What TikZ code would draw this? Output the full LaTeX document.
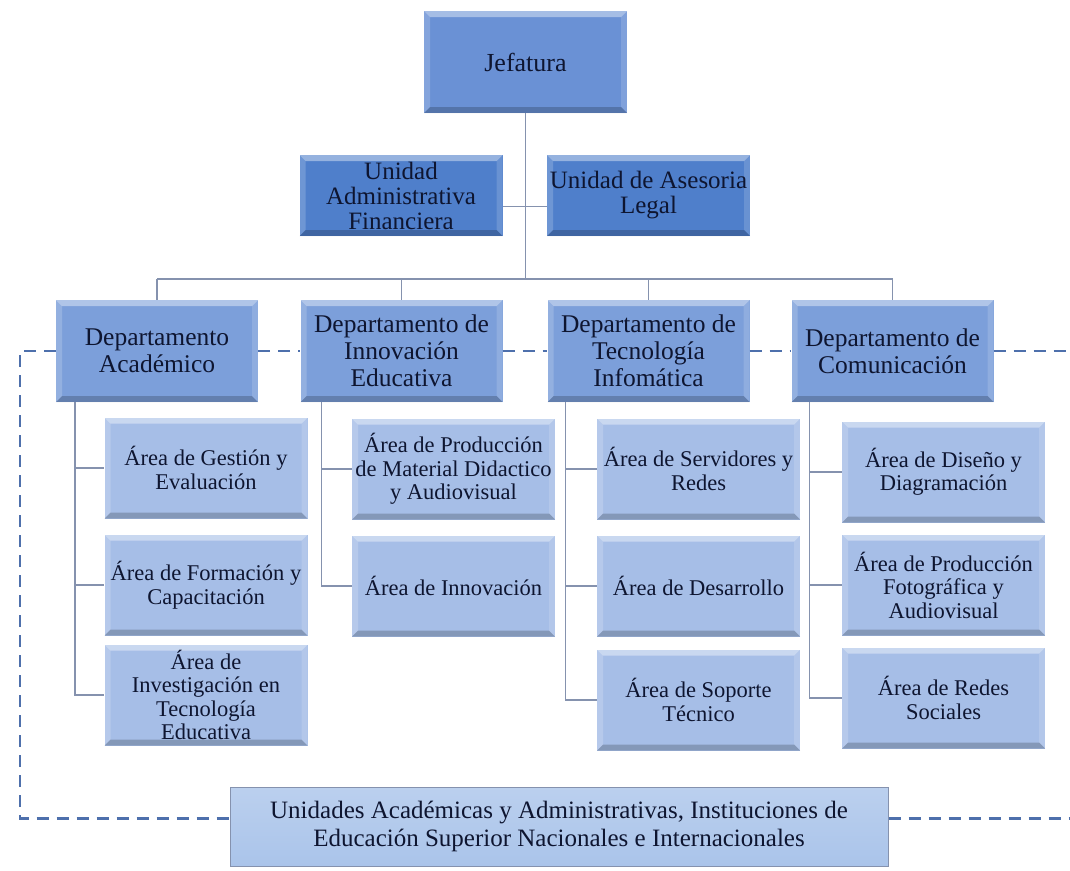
\documentclass[tikz,border=0pt]{standalone}
\usepackage{fontspec}
\setmainfont{Liberation Serif}
\usetikzlibrary{calc}

\definecolor{jefc}{HTML}{6A91D5}
\definecolor{unic}{HTML}{4F7FCB}
\definecolor{depc}{HTML}{7C9FDA}
\definecolor{arec}{HTML}{A6BEE7}
\definecolor{botc}{HTML}{AAC4EA}
\definecolor{txtc}{HTML}{0E1530}
\definecolor{linec}{HTML}{8592AE}
\definecolor{dashc}{HTML}{4E70AC}

\tikzset{
  % raised-panel look: light top/left edges, dark bottom/right edges
  bevel/.style={path picture={
    \fill[white,opacity=.4] (path picture bounding box.north west) -- (path picture bounding box.north east)
      -- ([shift={(-6pt,-6pt)}]path picture bounding box.north east) -- ([shift={(6pt,-6pt)}]path picture bounding box.north west) -- cycle;
    \fill[white,opacity=.18] (path picture bounding box.north west) -- (path picture bounding box.south west)
      -- ([shift={(6pt,6pt)}]path picture bounding box.south west) -- ([shift={(6pt,-6pt)}]path picture bounding box.north west) -- cycle;
    \fill[white,opacity=.15] (path picture bounding box.north east) -- (path picture bounding box.south east)
      -- ([shift={(-6pt,6pt)}]path picture bounding box.south east) -- ([shift={(-6pt,-6pt)}]path picture bounding box.north east) -- cycle;
    \fill[black,opacity=.2] (path picture bounding box.south west) -- (path picture bounding box.south east)
      -- ([shift={(-6pt,6pt)}]path picture bounding box.south east) -- ([shift={(6pt,6pt)}]path picture bounding box.south west) -- cycle;
  }},
  unit/.style={inner sep=0pt, align=center, text=txtc, bevel},
  jefbox/.style={unit, fill=jefc, minimum width=203pt, minimum height=102pt, font=\fontsize{26}{28}\selectfont},
  staffbox/.style={unit, fill=unic, minimum width=203pt, minimum height=81pt, font=\fontsize{25}{25}\selectfont},
  depbox/.style={unit, fill=depc, minimum width=202pt, minimum height=102pt, font=\fontsize{25.5}{27}\selectfont},
  areabox/.style={unit, fill=arec, minimum width=203pt, minimum height=101pt, font=\fontsize{22.5}{23.5}\selectfont},
  extbox/.style={inner sep=0pt, align=center, text=txtc, top color=botc!80!white, bottom color=botc,
    draw=linec, line width=1pt, minimum width=658pt, minimum height=79pt, font=\fontsize{25}{28}\selectfont},
  conn/.style={draw=linec, line width=1.6pt},
  dashlink/.style={draw=dashc, line width=2.6pt, dash pattern=on 12pt off 8pt},
}

\begin{document}
\begin{tikzpicture}[x=1pt,y=-1pt]
\useasboundingbox (0,0) rectangle (1070,870);

% top level
\node[jefbox] (jef) at (525.5,62) {Jefatura};
\node[staffbox] (uaf) at (401,195.5) {Unidad\\Administrativa\\Financiera};
\node[staffbox] (ual) at (648.5,195.5) {Unidad de Asesoria\\Legal};

% departments
\node[depbox] (d1) at (157,351) {Departamento\\Académico};
\node[depbox] (d2) at (401.5,351) {Departamento de\\Innovación\\Educativa};
\node[depbox] (d3) at (648.5,351) {Departamento de\\Tecnología\\Infomática};
\node[depbox] (d4) at (892.5,351) {Departamento de\\Comunicación};

% areas
\node[areabox] (a11) at (206,468) {Área de Gestión y\\Evaluación};
\node[areabox] (a12) at (206,585) {Área de Formación y\\Capacitación};
\node[areabox] (a13) at (206,695) {Área de\\Investigación en\\Tecnología\\Educativa};

\node[areabox] (a21) at (453.5,469) {Área de Producción\\de Material Didactico\\y Audiovisual};
\node[areabox] (a22) at (453.5,586) {Área de Innovación};

\node[areabox] (a31) at (698.5,469) {Área de Servidores y\\Redes};
\node[areabox] (a32) at (698.5,586) {Área de Desarrollo};
\node[areabox] (a33) at (698.5,700) {Área de Soporte\\Técnico};

\node[areabox] (a41) at (943.5,472) {Área de Diseño y\\Diagramación};
\node[areabox] (a42) at (943.5,585) {Área de Producción\\Fotográfica y\\Audiovisual};
\node[areabox] (a43) at (943.5,698) {Área de Redes\\Sociales};

% external relations
\node[extbox] (bot) at (559,826.5) {Unidades Académicas y Administrativas, Instituciones de\\Educación Superior Nacionales e Internacionales};

\coordinate (bus) at (527,279);
\coordinate (lft) at (20,352);
\coordinate (rgt) at (1070,352);

% hierarchy connectors
\draw[conn] (jef.south) -- (jef.south |- bus);
\draw[conn] ([yshift=-11pt]uaf.east) -- ([yshift=-11pt]ual.west);
\draw[conn] (d1.north |- bus) -- (d4.north |- bus);
\foreach \d in {d1,d2,d3,d4} \draw[conn] (\d.north |- bus) -- (\d.north);
\foreach \a in {a11,a12,a13} \draw[conn] ([xshift=19pt]d1.south west) |- (\a.west);
\foreach \a in {a21,a22} \draw[conn] ([xshift=21pt]d2.south west) |- (\a.west);
\foreach \a in {a31,a32,a33} \draw[conn] ([xshift=18pt]d3.south west) |- (\a.west);
\foreach \a in {a41,a42,a43} \draw[conn] ([xshift=18pt]d4.south west) |- (\a.west);

% coordination links
\draw[dashlink] (d1.west) -- (d1.west -| lft) |- ([yshift=8pt]bot.west);
\draw[dashlink] (d1.east) -- (d2.west);
\draw[dashlink] (d2.east) -- (d3.west);
\draw[dashlink] (d3.east) -- (d4.west);
\draw[dashlink] (d4.east) -- (d4.east -| rgt);
\draw[dashlink] ([yshift=8pt]bot.east) -- ([yshift=8pt]bot.east -| rgt);
\end{tikzpicture}
\end{document}
